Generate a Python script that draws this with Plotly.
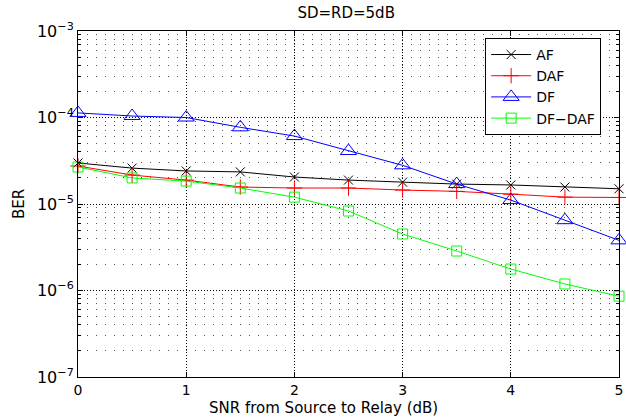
import plotly.graph_objects as go

snr = [0, 0.5, 1, 1.5, 2, 2.5, 3, 3.5, 4, 4.5, 5]
ber_af = [2.98e-5, 2.6e-5, 2.41e-5, 2.35e-5, 2.05e-5, 1.89e-5, 1.79e-5, 1.7e-5, 1.66e-5, 1.57e-5, 1.5e-5]
ber_daf = [2.75e-5, 2.16e-5, 1.89e-5, 1.57e-5, 1.53e-5, 1.53e-5, 1.45e-5, 1.4e-5, 1.3e-5, 1.2e-5, 1.19e-5]
ber_df = [1.13e-4, 1.04e-4, 1.0e-4, 7.7e-5, 6.1e-5, 4.1e-5, 2.8e-5, 1.7e-5, 1.11e-5, 6.5e-6, 3.8e-6]
ber_dfdaf = [2.68e-5, 2.0e-5, 1.84e-5, 1.53e-5, 1.2e-5, 8.3e-6, 4.5e-6, 2.86e-6, 1.77e-6, 1.19e-6, 8.6e-7]

series = [
    ("AF", ber_af, "#000000", "x-thin-open", 9),
    ("DAF", ber_daf, "#ff0000", "cross-thin-open", 11),
    ("DF", ber_df, "#0000ff", "triangle-up-open", 14),
    ("DF\u2212DAF", ber_dfdaf, "#00ff00", "square-open", 10),
]

x_ticks = [0, 1, 2, 3, 4, 5]
y_major = [1e-7, 1e-6, 1e-5, 1e-4, 1e-3]
y_labels = ["10<sup>\u22127</sup>", "10<sup>\u22126</sup>", "10<sup>\u22125</sup>",
            "10<sup>\u22124</sup>", "10<sup>\u22123</sup>"]
y_minor = [m * d for d in [1e-7, 1e-6, 1e-5, 1e-4] for m in range(2, 10)]

fig = go.Figure()
for name, y, col, sym, sz in series:
    fig.add_trace(go.Scatter(
        x=snr, y=y, name=name, mode="lines+markers",
        line=dict(color=col, width=1),
        marker=dict(symbol=sym, size=sz, color=col, line=dict(color=col, width=1)),
        cliponaxis=False,
    ))

font = "DejaVu Sans, Arial, sans-serif"
fig.update_layout(
    width=626, height=420,
    margin=dict(l=78, r=3, t=31, b=43),
    paper_bgcolor="white", plot_bgcolor="white",
    font=dict(family=font, size=14, color="black"),
    title=dict(text="SD=RD=5dB", x=0.553, xanchor="center", y=0.970, yanchor="middle",
               font=dict(size=15)),
    showlegend=True,
    legend=dict(x=0.967, xanchor="right", y=0.98, yanchor="top",
                bgcolor="white", bordercolor="black", borderwidth=1,
                font=dict(size=14, family=font),
                tracegroupgap=0, itemwidth=40),
    annotations=[dict(text="SNR from Source to Relay (dB)", xref="paper", yref="paper",
                      x=0.453, y=-0.09, xanchor="center", yanchor="middle",
                      showarrow=False, font=dict(size=15))],
)
fig.update_xaxes(
    range=[0, 5], tickvals=x_ticks,
    showline=True, linecolor="black", linewidth=1, mirror="ticks",
    ticks="inside", ticklen=5, tickcolor="black",
    showgrid=True, gridcolor="#000000", gridwidth=1, griddash="1px,2px",
    zeroline=False, ticklabeloverflow="allow",
    tickfont=dict(size=14),
)
fig.update_yaxes(
    type="log", range=[-7, -3],
    tickvals=y_major, ticktext=y_labels,
    showline=True, linecolor="black", linewidth=1, mirror="ticks",
    ticks="inside", ticklen=5, tickcolor="black",
    showgrid=True, gridcolor="#000000", gridwidth=1, griddash="1px,2px",
    minor=dict(tickvals=y_minor, ticks="inside", ticklen=3, tickcolor="black",
               showgrid=True, gridcolor="#555555", gridwidth=1, griddash="1px,8px"),
    zeroline=False,
    title=dict(text="BER", standoff=8, font=dict(size=15)),
    tickfont=dict(size=16),
)
fig.write_html("out.html")
